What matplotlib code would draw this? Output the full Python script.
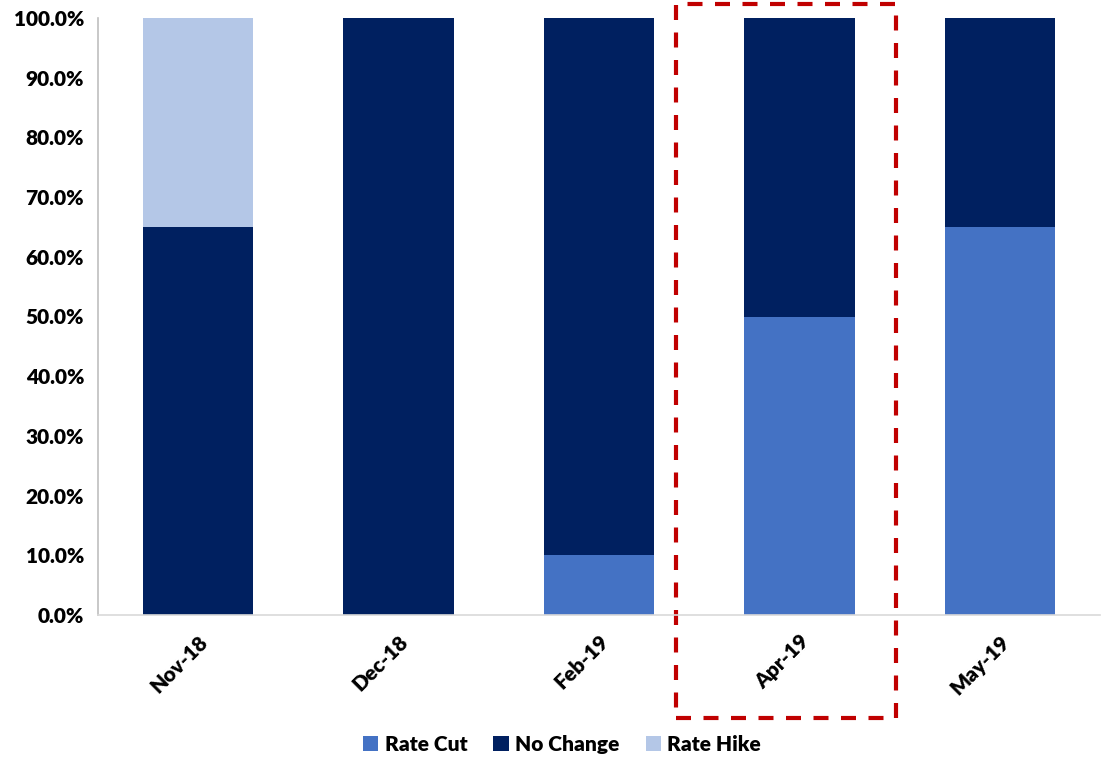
import matplotlib.pyplot as plt
import matplotlib.patches as patches
import matplotlib.transforms as transforms
from matplotlib.ticker import PercentFormatter

plt.rcParams['font.family'] = ['Lato', 'DejaVu Sans']
plt.rcParams['font.weight'] = 'heavy'

# Share of forecasts for each survey month
months = ['Nov-18', 'Dec-18', 'Feb-19', 'Apr-19', 'May-19']
rate_cut = [0, 0, 10, 50, 65]
no_change = [65, 100, 90, 50, 35]
rate_hike = [35, 0, 0, 0, 0]

fig = plt.figure(figsize=(11.02, 7.59), dpi=100)
ax = fig.add_axes([98 / 1102, 1 - 615 / 759, 1002 / 1102, 597 / 759])

x = range(len(months))
w = 0.55
ax.bar(x, rate_cut, w, color='#4472C4', label='Rate Cut')
ax.bar(x, no_change, w, bottom=rate_cut, color='#002060', label='No Change')
bottoms = [a + b for a, b in zip(rate_cut, no_change)]
ax.bar(x, rate_hike, w, bottom=bottoms, color='#B4C7E7', label='Rate Hike')

ax.set_xlim(-0.5, len(months) - 0.5)
ax.set_ylim(0, 100)
ax.set_yticks(range(0, 101, 10))
ax.yaxis.set_major_formatter(PercentFormatter(decimals=1))
ax.set_xticks(list(x))
ax.set_xticklabels(months, rotation=45, ha='right', rotation_mode='anchor')
ax.tick_params(axis='both', length=0, labelsize=15)
ax.tick_params(axis='x', pad=12)
ax.tick_params(axis='y', pad=10)

for side in ['top', 'right']:
    ax.spines[side].set_visible(False)
ax.spines['left'].set_color('#BFBFBF')
ax.spines['bottom'].set_color('#D9D9D9')
ax.spines['left'].set_linewidth(1.2)
ax.spines['bottom'].set_linewidth(1.2)

# Dashed highlight around Apr-19
trans = transforms.blended_transform_factory(ax.transData, ax.transAxes)
box = patches.Rectangle((2.385, -0.1725), 1.097, 1.196, transform=trans,
                        fill=False, edgecolor='#C00000', linewidth=3,
                        linestyle=(0, (3.6, 3.0)), clip_on=False)
ax.add_patch(box)

ax.legend(loc='lower center', bbox_to_anchor=(0.01, -0.004, 1.0, 1.0),
          bbox_transform=fig.transFigure, ncol=3, frameon=False,
          fontsize=15, handlelength=0.75, handleheight=0.75,
          handletextpad=0.3, columnspacing=1.25, borderaxespad=0.0)

fig.savefig('out.png', dpi=100)
